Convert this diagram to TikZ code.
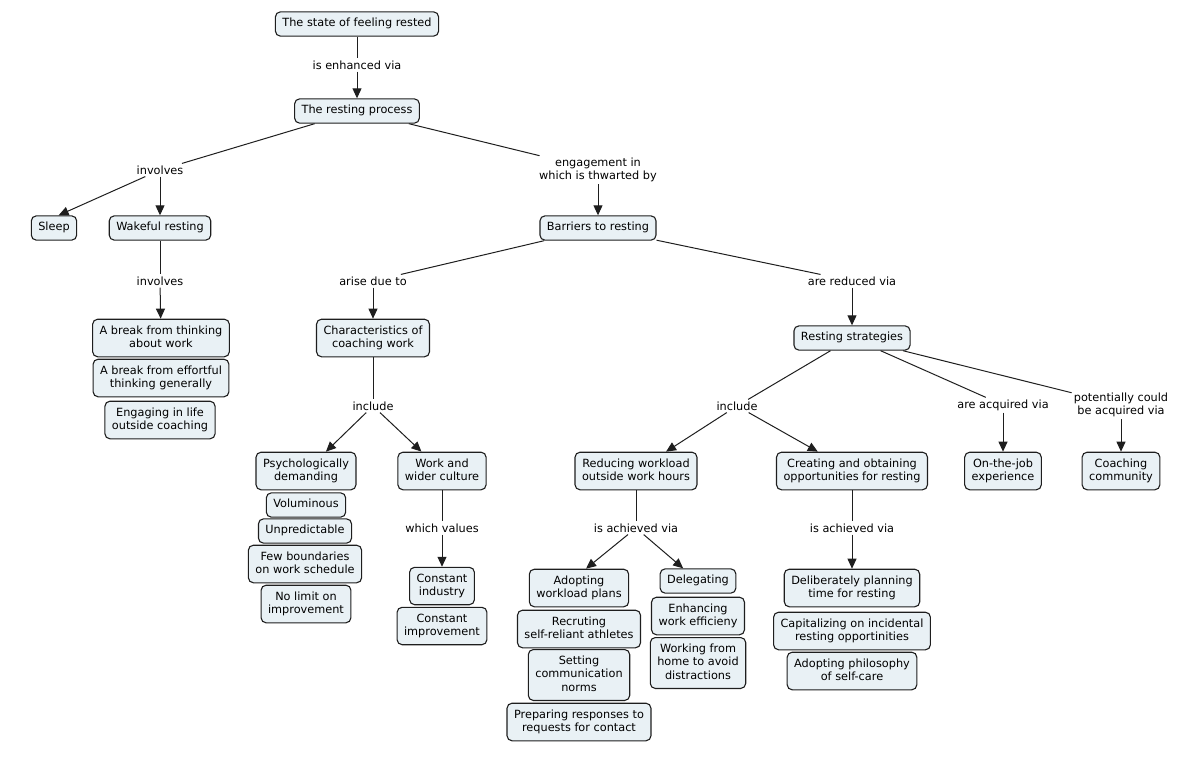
\documentclass[tikz,border=0pt]{standalone}
\usepackage{fontspec}
\setmainfont{DejaVu Sans}
\usetikzlibrary{arrows.meta}
\definecolor{cmapfill}{RGB}{233,241,245}
\definecolor{cmapline}{RGB}{30,30,30}

\begin{document}
\begin{tikzpicture}[x=1pt,y=-1pt,
  font=\fontsize{11.3}{13.3}\selectfont,
  concept/.style={draw=cmapline,fill=cmapfill,rounded corners=5pt,line width=1.1pt,
    align=center,inner xsep=7pt,inner ysep=6.5pt,text depth=2.7pt},
  linkword/.style={align=center,inner sep=2pt},
  link/.style={draw=cmapline,line width=1pt},
  linkarrow/.style={link,-{Triangle[length=10pt,width=9pt]}}]
\useasboundingbox (0,0) rectangle (1200,756);
\node[concept] (state) at (357,24) {The state of feeling rested};
\node[linkword] (enh) at (357,65) {is enhanced via};
\node[concept] (rest) at (357,111) {The resting process};
\node[linkword] (inv1) at (160,170) {involves};
\node[linkword] (eng) at (598,170) {engagement in\\which is thwarted by};
\node[concept] (sleep) at (54,228) {Sleep};
\node[concept] (wake) at (160,228) {Wakeful resting};
\node[concept] (barr) at (598,228) {Barriers to resting};
\node[linkword] (inv2) at (160,281) {involves};
\node[linkword] (arise) at (373,281) {arise due to};
\node[linkword] (red) at (852,281) {are reduced via};
\node[concept] (brk1) at (161,338) {A break from thinking\\about work};
\node[concept] (brk2) at (161,378) {A break from effortful\\thinking generally};
\node[concept] (life) at (160,420) {Engaging in life\\outside coaching};
\node[concept] (char) at (373,338) {Characteristics of\\coaching work};
\node[concept] (strat) at (852,338) {Resting strategies};
\node[linkword] (inc1) at (373,406) {include};
\node[linkword] (inc2) at (737,406) {include};
\node[linkword] (acq) at (1003,405) {are acquired via};
\node[linkword] (pot) at (1121,405) {potentially could\\be acquired via};
\node[concept] (psy) at (306,471) {Psychologically\\demanding};
\node[concept] (vol) at (306,505) {Voluminous};
\node[concept] (unp) at (305,531) {Unpredictable};
\node[concept] (few) at (305,564) {Few boundaries\\on work schedule};
\node[concept] (nolim) at (306,604) {No limit on\\improvement};
\node[concept] (wwc) at (442,471) {Work and\\wider culture};
\node[linkword] (vals) at (442,528) {which values};
\node[concept] (ind) at (442,586) {Constant\\industry};
\node[concept] (impr) at (442,626) {Constant\\improvement};
\node[concept] (redw) at (636,471) {Reducing workload\\outside work hours};
\node[concept] (creat) at (852,471) {Creating and obtaining\\opportunities for resting};
\node[concept] (otj) at (1003,471) {On-the-job\\experience};
\node[concept] (comm) at (1121,471) {Coaching\\community};
\node[linkword] (ach1) at (636,528) {is achieved via};
\node[linkword] (ach2) at (852,528) {is achieved via};
\node[concept] (adopt) at (579,588) {Adopting\\workload plans};
\node[concept] (recr) at (579,629) {Recruting\\self-reliant athletes};
\node[concept] (norms) at (579,675) {Setting\\communication\\norms};
\node[concept] (prep) at (579,722) {Preparing responses to\\requests for contact};
\node[concept] (deleg) at (698,581) {Delegating};
\node[concept] (effic) at (698,616) {Enhancing\\work efficieny};
\node[concept] (home) at (698,663) {Working from\\home to avoid\\distractions};
\node[concept] (plan) at (852,588) {Deliberately planning\\time for resting};
\node[concept] (incid) at (852,631) {Capitalizing on incidental\\resting opportinities};
\node[concept] (phil) at (852,671) {Adopting philosophy\\of self-care};
\draw[link] (state) -- (enh);
\draw[linkarrow] (enh) -- (rest);
\draw[link] (rest) -- (inv1);
\draw[linkarrow] (inv1) -- (sleep.70);
\draw[linkarrow] (inv1) -- (wake);
\draw[link] (rest) -- (eng);
\draw[linkarrow] (eng) -- (barr);
\draw[link] (wake) -- (inv2);
\draw[linkarrow] (inv2) -- (brk1);
\draw[link] (barr) -- (arise);
\draw[linkarrow] (arise) -- (char);
\draw[link] (barr) -- (red);
\draw[linkarrow] (red) -- (strat);
\draw[link] (char) -- (inc1);
\draw[linkarrow] (inc1) -- (psy);
\draw[linkarrow] (inc1) -- (wwc);
\draw[link] (wwc) -- (vals);
\draw[linkarrow] (vals) -- (ind);
\draw[link] (strat) -- (inc2);
\draw[linkarrow] (inc2) -- (redw);
\draw[linkarrow] (inc2) -- (creat);
\draw[link] (strat) -- (acq);
\draw[linkarrow] (acq) -- (otj);
\draw[link] (strat) -- (pot);
\draw[linkarrow] (pot) -- (comm);
\draw[link] (redw) -- (ach1);
\draw[linkarrow] (ach1) -- (adopt.70);
\draw[linkarrow] (ach1) -- (deleg);
\draw[link] (creat) -- (ach2);
\draw[linkarrow] (ach2) -- (plan);
\end{tikzpicture}
\end{document}
